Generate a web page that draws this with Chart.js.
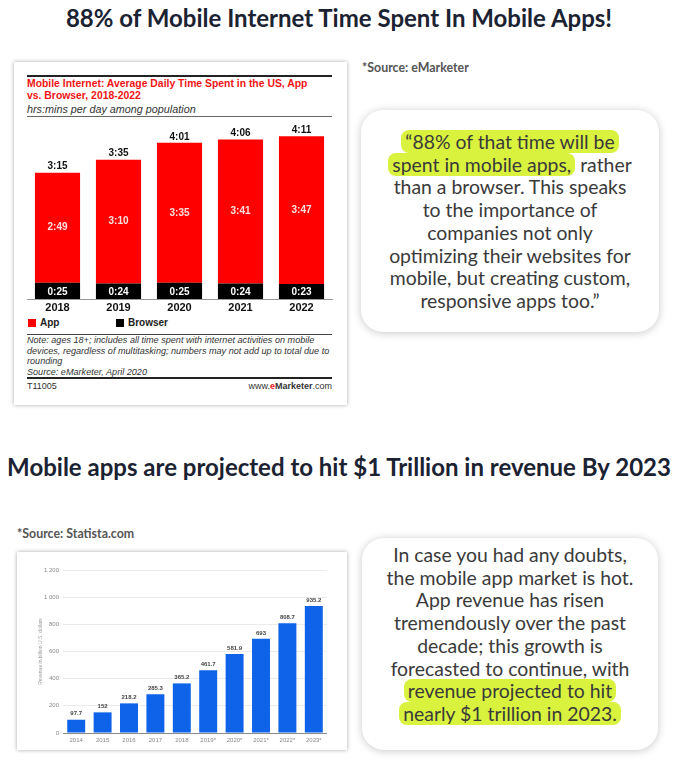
<!DOCTYPE html>
<html>
<head>
<meta charset="utf-8">
<script src="https://cdn.jsdelivr.net/npm/chart.js@4.4.1/dist/chart.umd.min.js"></script>
<style>
  body { margin: 0; width: 678px; height: 760px; background: #fff; position: relative; overflow: hidden; font-family: Lato, "Open Sans", sans-serif; }
  .abs { position: absolute; }
  h1 { position: absolute; left: 0; width: 678px; margin: 0; text-align: center; font: bold 24px Lato, sans-serif; color: #1b2232; line-height: 28px; white-space: nowrap; }
  .src { position: absolute; font: bold 12.4px Lato, sans-serif; color: #555; line-height: 14px; }
  .quote { position: absolute; background: #fff; border-radius: 22px; box-shadow: 0 1px 8px rgba(0,0,0,.22); text-align: center; font-size: 19.4px; line-height: 22.7px; color: #3a3a3a; box-sizing: border-box; white-space: nowrap; }
  .hl { background: #d9f23e; border-radius: 8px; padding: 0 4px; }
  .card { position: absolute; background: #fff; box-shadow: 0 0 4px rgba(0,0,0,.35); }
  .rule { position: absolute; left: 27px; width: 305px; background: #222; }
  .em { position: absolute; left: 27px; font-family: "Liberation Sans", Arial, sans-serif; white-space: nowrap; }
  .leg { position: absolute; top: 317px; font: bold 10px "Liberation Sans", Arial, sans-serif; color: #222; }
  .leg i { display: inline-block; width: 8px; height: 8px; margin-right: 4px; vertical-align: -1px; }
</style>
</head>
<body>
<h1 style="top:4px">88% of Mobile Internet Time Spent In Mobile Apps!</h1>

<div class="card" style="left:14px; top:62px; width:333px; height:343px"></div>
<div class="rule" style="top:75px; height:2px"></div>
<div class="em" style="top:78px; font-weight:bold; font-size:10.4px; line-height:11.5px; color:#f01414">Mobile Internet: Average Daily Time Spent in the US, App<br>vs. Browser, 2018-2022</div>
<div class="em" style="top:103px; font-style:italic; font-size:10.8px; line-height:12px; color:#333">hrs:mins per day among population</div>
<div class="rule" style="top:116px; height:1px; background:#666"></div>
<canvas id="timeChart" class="abs" style="left:20px; top:112px" width="320" height="204"></canvas>
<div class="leg" style="left:28px"><i style="background:#ff0000"></i>App</div>
<div class="leg" style="left:116px"><i style="background:#000"></i>Browser</div>
<div class="rule" style="top:334px; height:1px; background:#444"></div>
<div class="em" style="top:335px; font-style:italic; font-size:9.1px; line-height:10.5px; color:#333">Note: ages 18+; includes all time spent with internet activities on mobile<br>devices, regardless of multitasking; numbers may not add up to total due to<br>rounding<br>Source: eMarketer, April 2020</div>
<div class="rule" style="top:377px; height:2px"></div>
<div class="em" style="top:381px; font-size:9px; color:#333">T11005</div>
<div class="em" style="top:381px; left:auto; right:346px; font-size:9px; color:#333">www.<b style="color:#f01414">e</b><b>Marketer</b>.com</div>

<div class="src" style="left:362px; top:61px">*Source: eMarketer</div>
<div class="quote" style="left:361px; top:110px; width:298px; height:222px; padding-top:21px">
<span class="hl">“88% of that time will be</span><br><span class="hl">spent in mobile apps,</span> rather<br>than a browser. This speaks<br>to the importance of<br>companies not only<br>optimizing their websites for<br>mobile, but creating custom,<br>responsive apps too.”
</div>

<h1 style="top:453px">Mobile apps are projected to hit $1 Trillion in revenue By 2023</h1>

<div class="src" style="left:17px; top:527px">*Source: Statista.com</div>
<div class="card" style="left:17px; top:552px; width:330px; height:198px"></div>
<canvas id="revenueChart" class="abs" style="left:20px; top:556px" width="316" height="194"></canvas>

<div class="quote" style="left:362px; top:538px; width:296px; height:212px; padding-top:6px">
In case you had any doubts,<br>the mobile app market is hot.<br>App revenue has risen<br>tremendously over the past<br>decade; this growth is<br>forecasted to continue, with<br><span class="hl">revenue projected to hit</span><br><span class="hl">nearly $1 trillion in 2023.</span>
</div>

<script>
// eMarketer: minutes per day
const years = ["2018", "2019", "2020", "2021", "2022"];
const appMinutes = [169, 190, 215, 221, 227];
const browserMinutes = [25, 24, 25, 24, 23];
const totalMinutes = [195, 215, 241, 246, 251];

// Statista: revenue in billion U.S. dollars
const revenueYears = ["2014", "2015", "2016", "2017", "2018", "2019*", "2020*", "2021*", "2022*", "2023*"];
const revenue = [97.7, 152, 218.2, 285.3, 365.2, 461.7, 581.9, 693, 808.7, 935.2];
const revenueTicks = [0, 200, 400, 600, 800, 1000, 1200];

function hm(min) {
  const m = min % 60;
  return Math.floor(min / 60) + ":" + (m < 10 ? "0" : "") + m;
}

const timeLabels = {
  id: "timeLabels",
  afterDatasetsDraw(chart) {
    const ctx = chart.ctx;
    ctx.save();
    ctx.textAlign = "center";
    ctx.textBaseline = "middle";
    ctx.font = "bold 10px 'Liberation Sans', Arial, sans-serif";
    chart.data.datasets.forEach((ds, di) => {
      chart.getDatasetMeta(di).data.forEach((bar, i) => {
        const p = bar.getProps(["x", "y", "base"], true);
        ctx.fillStyle = di === 0 ? "#fff" : "#ffe0e0";
        ctx.fillText(hm(ds.data[i]), p.x, (p.y + p.base) / 2 + (di === 0 ? 1 : 0));
        if (di === chart.data.datasets.length - 1) {
          ctx.fillStyle = "#111";
          ctx.fillText(hm(totalMinutes[i]), p.x, p.y - 6);
        }
      });
    });
    ctx.restore();
  },
};

const timeChart = document.getElementById("timeChart");
new Chart(timeChart, {
  type: "bar",
  data: {
    labels: years,
    datasets: [
      { label: "Browser", data: browserMinutes, backgroundColor: "#000" },
      { label: "App", data: appMinutes, backgroundColor: "#ff0000" },
    ],
  },
  options: {
    responsive: false,
    animation: false,
    layout: { padding: { left: 7, right: 8, top: 8, bottom: 0 } },
    categoryPercentage: 1,
    barPercentage: 0.74,
    plugins: { legend: { display: false }, tooltip: { enabled: false } },
    scales: {
      x: {
        stacked: true,
        grid: { display: false, drawTicks: false },
        border: { display: true, color: "#999", width: 1 },
        ticks: { color: "#111", font: { family: "'Liberation Sans', Arial, sans-serif", size: 11, weight: "bold" }, padding: 2 },
        afterFit(s) { s.height = 17; },
      },
      y: { stacked: true, display: false, min: 0, max: 275 },
    },
  },
  plugins: [timeLabels],
});

const revenueLabels = {
  id: "revenueLabels",
  afterDatasetsDraw(chart) {
    const ctx = chart.ctx;
    ctx.save();
    ctx.textAlign = "center";
    ctx.textBaseline = "bottom";
    ctx.font = "bold 6px 'Liberation Sans', Arial, sans-serif";
    ctx.fillStyle = "#444";
    chart.getDatasetMeta(0).data.forEach((bar, i) => {
      ctx.fillText(String(revenue[i]), bar.x, bar.y - 3);
    });
    ctx.restore();
  },
};

const revenueChart = document.getElementById("revenueChart");
new Chart(revenueChart, {
  type: "bar",
  data: {
    labels: revenueYears,
    datasets: [{ label: "Revenue", data: revenue, backgroundColor: "#0f63e8" }],
  },
  options: {
    responsive: false,
    animation: false,
    layout: { padding: { left: 0, right: 9, top: 14, bottom: 6 } },
    categoryPercentage: 1,
    barPercentage: 0.68,
    plugins: { legend: { display: false }, tooltip: { enabled: false } },
    scales: {
      x: {
        grid: { display: false, drawTicks: false },
        border: { display: false },
        ticks: { color: "#888", font: { family: "'Liberation Sans', Arial, sans-serif", size: 6 }, padding: 4 },
        afterFit(s) { s.height = 11; },
      },
      y: {
        min: 0,
        max: 1200,
        afterBuildTicks(s) { s.ticks = revenueTicks.map((v) => ({ value: v })); },
        grid: { color: (c) => (c.tick && c.tick.value === 0 ? "#8a8a8a" : "#ebebeb"), drawTicks: false },
        border: { display: false },
        ticks: {
          color: "#888",
          font: { family: "'Liberation Sans', Arial, sans-serif", size: 6 },
          padding: 4,
          callback: (v) => String(v).replace(/\B(?=(\d{3})+(?!\d))/g, " "),
        },
        title: { display: true, text: "Revenue in billion U.S. dollars", color: "#999", font: { size: 5 }, padding: { top: 18, bottom: 0 } },
        afterFit(s) { s.width = 43; },
      },
    },
  },
  plugins: [revenueLabels],
});
</script>
</body>
</html>
